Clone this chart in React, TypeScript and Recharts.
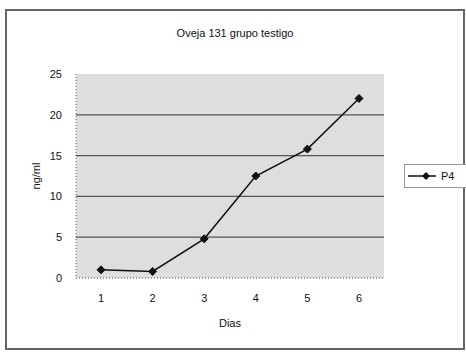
import React from "react";
import { LineChart, Line, XAxis, YAxis, CartesianGrid, Legend } from "recharts";

const dias = ["1", "2", "3", "4", "5", "6"];
const p4 = [1.0, 0.8, 4.8, 12.5, 15.8, 22.0];
const yTicks = [0, 5, 10, 15, 20, 25];

const data = dias.map((d, i) => ({ dia: d, P4: p4[i] }));

const font = "'Liberation Sans', Arial, sans-serif";

function Diamond(props: any) {
  const { cx, cy } = props;
  if (cx == null || cy == null) return null;
  const r = 4;
  return (
    <polygon
      points={`${cx},${cy - r} ${cx + r},${cy} ${cx},${cy + r} ${cx - r},${cy}`}
      fill="#111"
      stroke="#111"
    />
  );
}

function LegendBox() {
  return (
    <div
      style={{
        width: 62,
        height: 22,
        border: "1px solid #999",
        background: "#fff",
        display: "flex",
        alignItems: "center",
        fontFamily: font,
        fontSize: 11,
        color: "#111",
      }}
    >
      <svg width={34} height={22}>
        <line x1={3} y1={11} x2={31} y2={11} stroke="#111" strokeWidth={1.5} />
        <polygon points="21,7 25,11 21,15 17,11" fill="#111" />
      </svg>
      <span style={{ marginLeft: 2 }}>P4</span>
    </div>
  );
}

const pad = { left: 25, right: 25 };

export default function App() {
  return (
    <div style={{ position: "absolute", left: 0, top: 0, width: 466, height: 352, background: "#fff" }}>
      <div
        style={{
          position: "absolute",
          left: 5,
          top: 9,
          width: 456,
          height: 337,
          border: "2px solid #666",
        }}
      />
      <div
        style={{
          position: "absolute",
          left: 0,
          width: 470,
          top: 27,
          textAlign: "center",
          fontFamily: font,
          fontSize: 11,
          color: "#111",
        }}
      >
        Oveja 131 grupo testigo
      </div>
      <LineChart
        width={466}
        height={352}
        data={data}
        margin={{ top: 74, right: 82, bottom: 20, left: 36 }}
        style={{ position: "absolute", left: 0, top: 0 }}
      >
        <CartesianGrid
          vertical={false}
          horizontalValues={[5, 10, 15, 20]}
          stroke="#555"
          strokeWidth={1.2}
          fill="#dedede"
        />
        <XAxis
          dataKey="dia"
          height={30}
          padding={pad}
          tickLine={false}
          axisLine={{ stroke: "#444", strokeDasharray: "1 2" }}
          tick={{ fill: "#111", fontSize: 11, fontFamily: font }}
          tickMargin={10}
          label={{ value: "Dias", position: "insideBottom", offset: -19, fill: "#111", fontSize: 11, fontFamily: font }}
        />
        <XAxis
          xAxisId="top"
          dataKey="dia"
          orientation="top"
          height={0}
          padding={pad}
          tick={false}
          tickLine={false}
          axisLine={{ stroke: "#666", strokeDasharray: "1 2" }}
        />
        <YAxis
          domain={[0, 25]}
          ticks={yTicks}
          width={40}
          tickLine={false}
          axisLine={{ stroke: "#666", strokeDasharray: "1 2" }}
          tick={{ fill: "#111", fontSize: 11, fontFamily: font }}
          tickMargin={8}
          label={{ value: "ng/ml", angle: -90, position: "insideLeft", offset: 0, fill: "#111", fontSize: 11, fontFamily: font, style: { textAnchor: "middle" } }}
        />
        <YAxis
          yAxisId="right"
          orientation="right"
          width={0}
          tick={false}
          tickLine={false}
          axisLine={{ stroke: "#666", strokeDasharray: "1 2" }}
        />
        <Legend
          content={() => <LegendBox />}
          wrapperStyle={{ position: "absolute", left: 404, top: 164, width: 64 }}
        />
        <Line
          type="linear"
          dataKey="P4"
          stroke="#111"
          strokeWidth={1.5}
          dot={<Diamond />}
          activeDot={false}
          isAnimationActive={false}
        />
      </LineChart>
    </div>
  );
}
